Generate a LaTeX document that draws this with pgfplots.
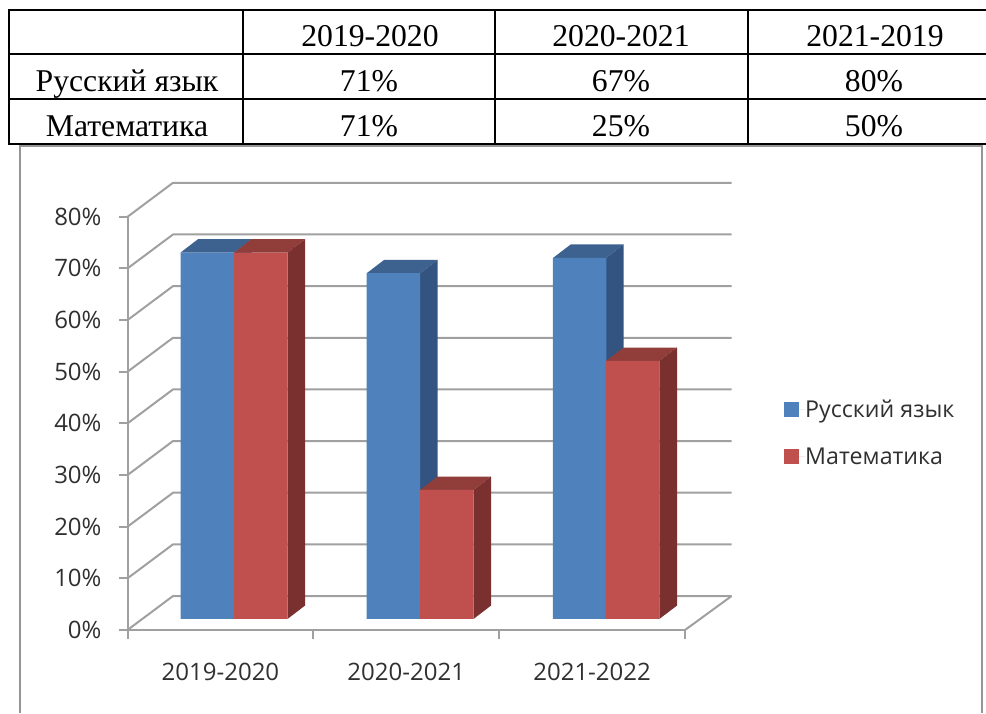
\documentclass[border=0pt]{standalone}
\usepackage{fontspec}
\setmainfont{Liberation Serif}
\newfontfamily\chartfont{Open Sans}
\usepackage{pgfplots}
\usepackage{pgfplotstable}
\pgfplotsset{compat=1.18}
\definecolor{gridc}{HTML}{A0A0A0}
\definecolor{framec}{HTML}{969696}
\definecolor{txtc}{HTML}{303030}
\definecolor{blueF}{HTML}{4F81BD}
\definecolor{blueT}{HTML}{3D6290}
\definecolor{blueS}{HTML}{335480}
\definecolor{redF}{HTML}{C0504D}
\definecolor{redT}{HTML}{913D3A}
\definecolor{redS}{HTML}{7A302E}
\pgfplotstableread{
x   v
207.25 71
393.35 67
579.65 70
}\rus
\pgfplotstableread{
x   v
260.75 71
446.75 25
632.65 50
}\mat
\newcommand{\tfont}{\fontsize{31.7}{36}\selectfont}
\newcommand{\cfont}{\chartfont\fontsize{24}{28}\selectfont}
\newcommand{\lfont}{\chartfont\fontsize{23.2}{28}\selectfont}
\begin{document}
\begin{tikzpicture}
\path[use as bounding box] (0,0) rectangle (986pt,713pt);
% Page layer in pixel coordinates: table and chart walls
\begin{axis}[at={(0,0)},anchor=south west,scale only axis,width=986pt,height=713pt,
  xmin=0,xmax=986,ymin=0,ymax=713,y dir=reverse,hide axis,clip=false]
  % chart frame
  \draw[framec,line width=2.4pt] (axis cs:20,713) -- (axis cs:20,145.5) -- (axis cs:982,145.5) -- (axis cs:982,713);
  % table
  \draw[black,line width=2pt] (axis cs:9,10) -- (axis cs:986,10);
  \draw[black,line width=2pt] (axis cs:9,53.5) -- (axis cs:986,53.5);
  \draw[black,line width=2pt] (axis cs:9,98.5) -- (axis cs:986,98.5);
  \draw[black,line width=2pt] (axis cs:9,144) -- (axis cs:986,144);
  \draw[black,line width=2pt] (axis cs:9,9) -- (axis cs:9,145);
  \draw[black,line width=2pt] (axis cs:243,10) -- (axis cs:243,144);
  \draw[black,line width=2pt] (axis cs:495,10) -- (axis cs:495,144);
  \draw[black,line width=2pt] (axis cs:748,10) -- (axis cs:748,144);
  \node[font=\tfont,anchor=base] at (axis cs:370,46) {2019-2020};
  \node[font=\tfont,anchor=base] at (axis cs:621,46) {2020-2021};
  \node[font=\tfont,anchor=base] at (axis cs:875,46) {2021-2019};
  \node[font=\tfont,anchor=base] at (axis cs:127,91) {Русский язык};
  \node[font=\tfont,anchor=base] at (axis cs:369,91) {71\%};
  \node[font=\tfont,anchor=base] at (axis cs:621,91) {67\%};
  \node[font=\tfont,anchor=base] at (axis cs:874,91) {80\%};
  \node[font=\tfont,anchor=base] at (axis cs:127,136) {Математика};
  \node[font=\tfont,anchor=base] at (axis cs:369,136) {71\%};
  \node[font=\tfont,anchor=base] at (axis cs:621,136) {25\%};
  \node[font=\tfont,anchor=base] at (axis cs:874,136) {50\%};
  % walls
  \foreach \k in {0,...,8}{
    \edef\temp{\noexpand\draw[gridc,line width=2pt,line join=round]
      (axis cs:127.5,{630-51.65*\k}) -- (axis cs:173,{596-51.65*\k}) -- (axis cs:731.6,{596-51.65*\k});}
    \temp
  }
  \draw[gridc,line width=2pt] (axis cs:685,630) -- (axis cs:731.6,596);
\end{axis}
% Front axis with ticks and labels
\begin{axis}[at={(127.5pt,83pt)},anchor=south west,scale only axis,width=557.5pt,height=413.5pt,
  xmin=0,xmax=3,ymin=0,ymax=80,
  axis x line*=bottom,axis y line*=left,
  axis line style={gridc,line width=2pt,-},
  tick style={gridc,line width=2pt},
  tick align=outside,major tick length=8.5pt,
  xtick={0,1,2,3},xticklabels={,,,},
  extra x ticks={0.5,1.5,2.5},
  extra x tick labels={2019-2020,2020-2021,2021-2022},
  extra x tick style={major tick length=0pt,
    tick label style={font=\cfont,text=txtc,anchor=base,yshift=-50.5pt}},
  ytick={0,10,...,80},
  yticklabels={0\%,10\%,20\%,30\%,40\%,50\%,60\%,70\%,80\%},
  y tick label style={font=\cfont,text=txtc,xshift=-14pt},
]
\end{axis}
% Bars in data coordinates (x in page pixels, y in percent)
\begin{axis}[at={(0,0)},anchor=south west,scale only axis,width=986pt,height=713pt,
  xmin=0,xmax=986,ymin=-18.22,ymax=119.95,hide axis,clip=false,
  legend style={at={(axis cs:781,42.8)},anchor=north west,draw=none,fill=none,
    font=\lfont,text=txtc,row sep=28.5pt,
    nodes={inner sep=0pt,anchor=west}},
  legend cell align=left,
  legend image code/.code={\path (0pt,0pt) -- (21pt,0pt);\fill[#1] (0pt,-7.5pt) rectangle (14.5pt,7.5pt);},
]
  % group 1
  \addplot[forget plot,fill=blueT,draw=none] coordinates {(180.5,71)(198,73.6)(251.5,73.6)(234,71)} --cycle;
  \addplot[forget plot,fill=blueS,draw=none] coordinates {(234,0)(251.5,2.6)(251.5,73.6)(234,71)} --cycle;
  % group 2
  \addplot[forget plot,fill=blueT,draw=none] coordinates {(366.7,67)(384.2,69.6)(437.7,69.6)(420,67)} --cycle;
  \addplot[forget plot,fill=blueS,draw=none] coordinates {(420,0)(437.7,2.6)(437.7,69.6)(420,67)} --cycle;
  % group 3
  \addplot[forget plot,fill=blueT,draw=none] coordinates {(553.3,70)(570.8,72.6)(623.7,72.6)(606,70)} --cycle;
  \addplot[forget plot,fill=blueS,draw=none] coordinates {(606,0)(623.7,2.6)(623.7,72.6)(606,70)} --cycle;
  \addplot[ybar,bar width=53.5pt,bar shift=0pt,fill=blueF,draw=none] table[x=x,y=v] {\rus};
  \addlegendentry{Русский язык}
  \addplot[forget plot,fill=redT,draw=none] coordinates {(234,71)(251.5,73.6)(305,73.6)(287.5,71)} --cycle;
  \addplot[forget plot,fill=redS,draw=none] coordinates {(287.5,0)(305,2.6)(305,73.6)(287.5,71)} --cycle;
  \addplot[forget plot,fill=redT,draw=none] coordinates {(420,25)(437.7,27.6)(491,27.6)(473.5,25)} --cycle;
  \addplot[forget plot,fill=redS,draw=none] coordinates {(473.5,0)(491,2.6)(491,27.6)(473.5,25)} --cycle;
  \addplot[forget plot,fill=redT,draw=none] coordinates {(606,50)(623.7,52.6)(677,52.6)(659.3,50)} --cycle;
  \addplot[forget plot,fill=redS,draw=none] coordinates {(659.3,0)(677,2.6)(677,52.6)(659.3,50)} --cycle;
  \addplot[ybar,bar width=53.5pt,bar shift=0pt,fill=redF,draw=none] table[x=x,y=v] {\mat};
  \addlegendentry{Математика}
\end{axis}
\end{tikzpicture}
\end{document}
